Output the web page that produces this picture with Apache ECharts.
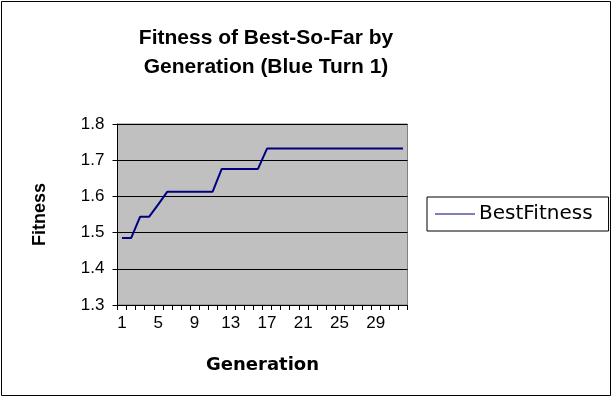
<!DOCTYPE html>
<html>
<head>
<meta charset="utf-8">
<script src="https://cdn.jsdelivr.net/npm/echarts@6/dist/echarts.min.js"></script>
<style>
  html, body { margin: 0; padding: 0; background: #ffffff; }
  #chart { width: 613px; height: 398px; }
</style>
</head>
<body>
<div id="chart"></div>
<script>
// Generations 1..32
const generations = Array.from({ length: 32 }, (_, i) => String(i + 1));

// Best-so-far fitness per generation
const bestFitness = [
  1.485, 1.485, 1.544, 1.544, 1.578, 1.613, 1.613, 1.613,
  1.613, 1.613, 1.613, 1.676, 1.676, 1.676, 1.676, 1.676,
  1.732, 1.732, 1.732, 1.732, 1.732, 1.732, 1.732, 1.732,
  1.732, 1.732, 1.732, 1.732, 1.732, 1.732, 1.732, 1.732
];

// Category indices that carry a tick label (1, 5, 9, ..., 29)
const labelledIndices = [0, 4, 8, 12, 16, 20, 24, 28];

const titleText = 'Fitness of Best-So-Far by\nGeneration (Blue Turn 1)';

const yMin = 1.3, yMax = 1.8, yStep = 0.1;

const chart = echarts.init(document.getElementById('chart'), null, { renderer: 'canvas' });
const font = 'Liberation Sans, Arial, sans-serif';
const wide = 'DejaVu Sans, Verdana, sans-serif';

chart.setOption({
  animation: false,
  backgroundColor: '#ffffff',
  graphic: [
    {
      type: 'rect',
      shape: { x: 1.5, y: 1.5, width: 609, height: 394 },
      style: { fill: 'none', stroke: '#000000', lineWidth: 1 },
      z: 0
    }
  ],
  title: {
    text: titleText,
    left: 261,
    top: 19,
    textAlign: 'center',
    textStyle: {
      fontFamily: font,
      fontSize: 21,
      fontWeight: 'bold',
      color: '#000000',
      lineHeight: 29
    }
  },
  legend: {
    left: 427,
    top: 197,
    orient: 'vertical',
    itemWidth: 40,
    itemHeight: 10,
    itemGap: 0,
    padding: [7, 16, 7, 8],
    borderColor: '#000000',
    borderWidth: 1,
    icon: 'path://M0,5 L40,5 L40,6.2 L0,6.2 Z',
    textStyle: { fontFamily: wide, fontSize: 20, color: '#000000', padding: [0, 0, 0, -1] },
    data: [{ name: 'BestFitness' }]
  },
  grid: {
    left: 117.5,
    right: 205.5,
    top: 124,
    bottom: 93,
    show: true,
    backgroundColor: '#c0c0c0',
    borderColor: '#808080',
    borderWidth: 1
  },
  xAxis: {
    type: 'category',
    data: generations,
    boundaryGap: true,
    name: 'Generation',
    nameLocation: 'middle',
    nameGap: 51,
    nameTextStyle: { fontFamily: wide, fontSize: 18, fontWeight: 'bold', color: '#000000' },
    axisLine: { show: true, lineStyle: { color: '#000000', width: 1 } },
    axisTick: { show: true, alignWithLabel: false, interval: 0, length: 5, lineStyle: { color: '#000000' } },
    axisLabel: {
      customValues: labelledIndices,
      hideOverlap: false,
      margin: 10,
      fontFamily: font,
      fontSize: 17,
      color: '#000000'
    },
    splitLine: { show: false }
  },
  yAxis: {
    type: 'value',
    min: yMin,
    max: yMax,
    interval: yStep,
    name: 'Fitness',
    nameLocation: 'middle',
    nameGap: 68,
    nameRotate: 90,
    nameTextStyle: { fontFamily: font, fontSize: 18, fontWeight: 'bold', color: '#000000' },
    axisLine: { show: true, lineStyle: { color: '#000000', width: 1 } },
    axisTick: { show: true, length: 5, lineStyle: { color: '#000000' } },
    axisLabel: {
      margin: 13,
      fontFamily: font,
      fontSize: 17,
      color: '#000000',
      formatter: v => v.toFixed(1)
    },
    splitLine: { show: true, lineStyle: { color: '#000000', width: 1 } }
  },
  series: [
    {
      name: 'BestFitness',
      type: 'line',
      data: bestFitness,
      symbol: 'none',
      lineStyle: { color: '#000080', width: 2 },
      itemStyle: { color: '#000080' }
    }
  ]
});
</script>
</body>
</html>
